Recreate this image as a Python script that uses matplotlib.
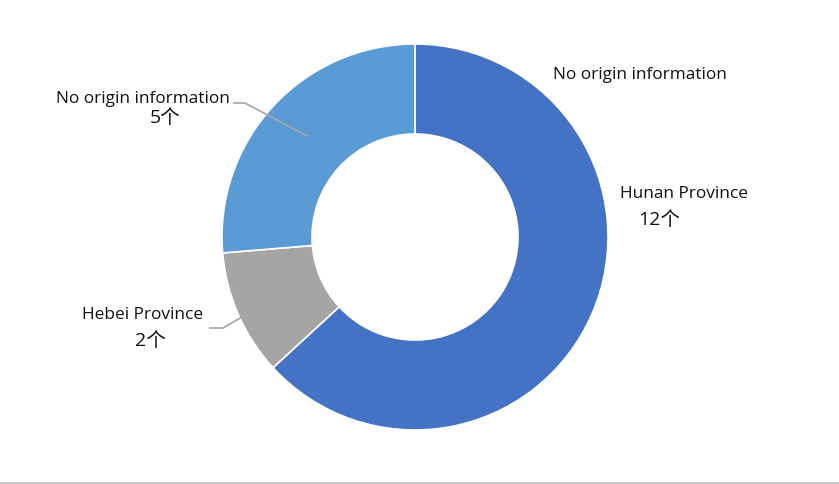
import matplotlib
matplotlib.use('Agg')
import matplotlib.pyplot as plt

# data
categories = ['Hunan Province', 'Hebei Province', 'No origin information']
counts = [12, 2, 5]
colors = ['#4472C4', '#A5A5A5', '#5B9BD5']

plt.rcParams['font.family'] = ['Open Sans', 'Noto Sans CJK SC', 'DejaVu Sans']

fig = plt.figure(figsize=(8.39, 4.85), dpi=100)
ax = fig.add_axes([0, 0, 1, 1])

# donut, pixel units (y up)
cx, cy, R = 415, 247, 193
ax.pie(counts, colors=colors, startangle=90, counterclock=False,
       center=(cx, cy), radius=R, frame=True,
       wedgeprops=dict(width=R - 103, edgecolor='white', linewidth=1.2))
ax.set_xlim(0, 839)
ax.set_ylim(0, 485)
ax.set_aspect('equal')
ax.axis('off')

fs = 12.4
nfs = 14
tc = '#111111'
# stray label top right
ax.text(553, 410, categories[2], fontsize=fs, color=tc, ha='left', va='center', fontweight='medium')

# Hunan
ax.text(620, 291, categories[0], fontsize=fs, color=tc, ha='left', va='center', fontweight='medium')
ax.text(659, 265, str(counts[0]) + '个', fontsize=nfs, color=tc, ha='center', va='center', fontweight='medium')

# Hebei
ax.text(143, 170, categories[1], fontsize=fs, color=tc, ha='center', va='center', fontweight='medium')
ax.text(150, 144, str(counts[1]) + '个', fontsize=nfs, color=tc, ha='center', va='center', fontweight='medium')
ax.plot([210, 223, 242], [156, 156, 167], color='#A5A5A5', lw=1.2)

# No origin information
ax.text(143, 386, categories[2], fontsize=fs, color=tc, ha='center', va='center', fontweight='medium')
ax.text(165, 367, str(counts[2]) + '个', fontsize=nfs, color=tc, ha='center', va='center', fontweight='medium')
ax.plot([234, 245, 307], [381, 381, 348], color='#A5A5A5', lw=1.2)

# bottom border
ax.plot([0, 839], [1.5, 1.5], color='#C8C8C8', lw=1.5, solid_capstyle='butt')

fig.savefig('out.png', dpi=100)
